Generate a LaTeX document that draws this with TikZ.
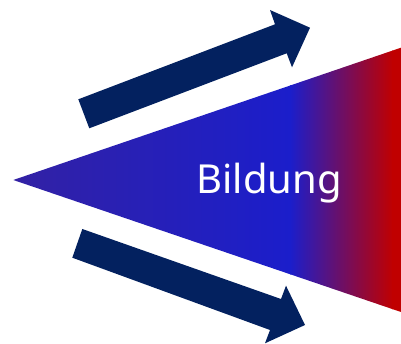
\documentclass[tikz,border=0pt]{standalone}
\usepackage{fontspec}
\setmainfont{Noto Sans}
\definecolor{navyarrow}{HTML}{03215F}
\definecolor{tipblue}{HTML}{3221A4}
\definecolor{midblue}{HTML}{1B1ECB}
\definecolor{endred}{HTML}{C00000}
\tikzset{
  arrowshape/.style={fill=navyarrow, draw=none},
  labeltext/.style={text=white, font=\fontsize{40}{40}\selectfont, inner sep=0pt, anchor=base}
}
\begin{document}
\begin{tikzpicture}[x=1pt,y=-1pt]
\useasboundingbox (0,0) rectangle (401,344);
\coordinate (tip) at (13.3,180);
\coordinate (tr) at (401,47.7);
\coordinate (br) at (401,312);
\begin{scope}
  \clip (tip) -- (tr) -- (br) -- cycle;
  \shade[left color=tipblue, right color=midblue] (13,0) rectangle (291,344);
  \shade[left color=midblue, right color=endred] (290,0) rectangle (393,344);
  \fill[endred] (392,0) rectangle (402,344);
\end{scope}
% upper arrow
\fill[arrowshape] (78.3,99.3) -- (275,24.3) -- (270,10) -- (310,27.7) -- (292,67.3) -- (286.7,53.3) -- (89.3,128.3) -- cycle;
% lower arrow
\fill[arrowshape] (82.3,229) -- (281,299) -- (286,285.7) -- (305,325) -- (265,343.3) -- (270,330) -- (72.3,257.7) -- cycle;
\node[labeltext] (lbl) at (269,194) {Bildung};
\end{tikzpicture}
\end{document}
